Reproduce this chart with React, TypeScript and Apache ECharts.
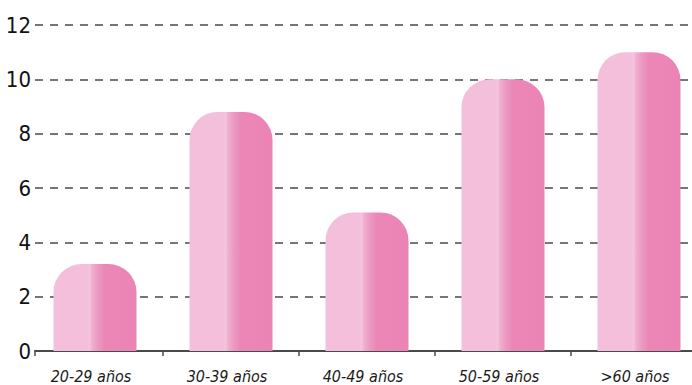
import React, { useEffect, useRef } from 'react';
import * as echarts from 'echarts';

const categories = ['20-29 años', '30-39 años', '40-49 años', '50-59 años', '>60 años'];
const values = [3.2, 8.8, 5.1, 10, 11];
const yMin = 0;
const yMax = 12;
const yStep = 2;

const FONT = "'Liberation Sans Narrow', 'DejaVu Sans Condensed', 'Liberation Sans', sans-serif";

export default function App() {
  const ref = useRef<HTMLDivElement>(null);
  useEffect(() => {
    if (!ref.current) return;
    const chart = echarts.init(ref.current, undefined, { renderer: 'svg' });
    const barColor = new echarts.graphic.LinearGradient(0, 0, 1, 0, [
      { offset: 0, color: '#F4BFDB' },
      { offset: 0.4, color: '#F3BFDA' },
      { offset: 0.43, color: '#F4C6DD' },
      { offset: 0.47, color: '#EFADCE' },
      { offset: 0.54, color: '#EC97C1' },
      { offset: 0.62, color: '#EB87B7' },
      { offset: 1, color: '#EB84B4' },
    ]);
    chart.setOption({
      animation: false,
      backgroundColor: '#ffffff',
      grid: [
        { left: 35, width: 662, top: 25, bottom: 34, outerBoundsMode: 'none', containLabel: false },
        { left: 27, width: 680, top: 25, bottom: 34, outerBoundsMode: 'none', containLabel: false },
      ],
      xAxis: [
        {
          type: 'value',
          gridIndex: 0,
          min: 0,
          max: 1,
          interval: 1,
          axisLine: { show: true, lineStyle: { color: '#4a4a4a', width: 2 } },
          axisTick: { show: true, length: 5, lineStyle: { color: '#4a4a4a', width: 1.5 } },
          axisLabel: { show: false },
          splitLine: { show: false },
        },
        {
          type: 'category',
          gridIndex: 1,
          data: categories,
          boundaryGap: true,
          axisLine: { show: false },
          axisTick: {
            show: true,
            length: 5,
            interval: (index: number) => index > 0,
            lineStyle: { color: '#4a4a4a', width: 1.5 },
          },
          axisLabel: {
            interval: 0,
            margin: 17,
            fontFamily: FONT,
            fontStyle: 'italic',
            fontSize: 16,
            color: '#1a1a1a',
            padding: [0, 8, 0, 0],
          },
          splitLine: { show: false },
        },
      ],
      yAxis: [
        {
          type: 'value',
          gridIndex: 0,
          min: yMin,
          max: yMax,
          interval: yStep,
          axisLine: { show: false },
          axisTick: { show: false },
          axisLabel: {
            margin: 4,
            fontFamily: FONT,
            fontSize: 22,
            color: '#111111',
            verticalAlign: 'middle',
            padding: [0, 0, 12, 0],
          },
          splitLine: {
            show: true,
            lineStyle: { color: '#4a4a4a', width: 1.5, type: [8, 7] },
          },
        },
        {
          type: 'value',
          gridIndex: 1,
          min: yMin,
          max: yMax,
          interval: yStep,
          show: false,
          splitLine: { show: false },
        },
      ],
      series: [
        {
          type: 'bar',
          xAxisIndex: 1,
          yAxisIndex: 1,
          data: values,
          barWidth: 83,
          itemStyle: {
            color: barColor,
            borderRadius: [28, 28, 0, 0],
          },
        },
      ],
    });
    return () => chart.dispose();
  }, []);
  return (
    <div
      ref={ref}
      style={{ position: 'fixed', left: 0, top: 0, width: 692, height: 385 }}
    />
  );
}
